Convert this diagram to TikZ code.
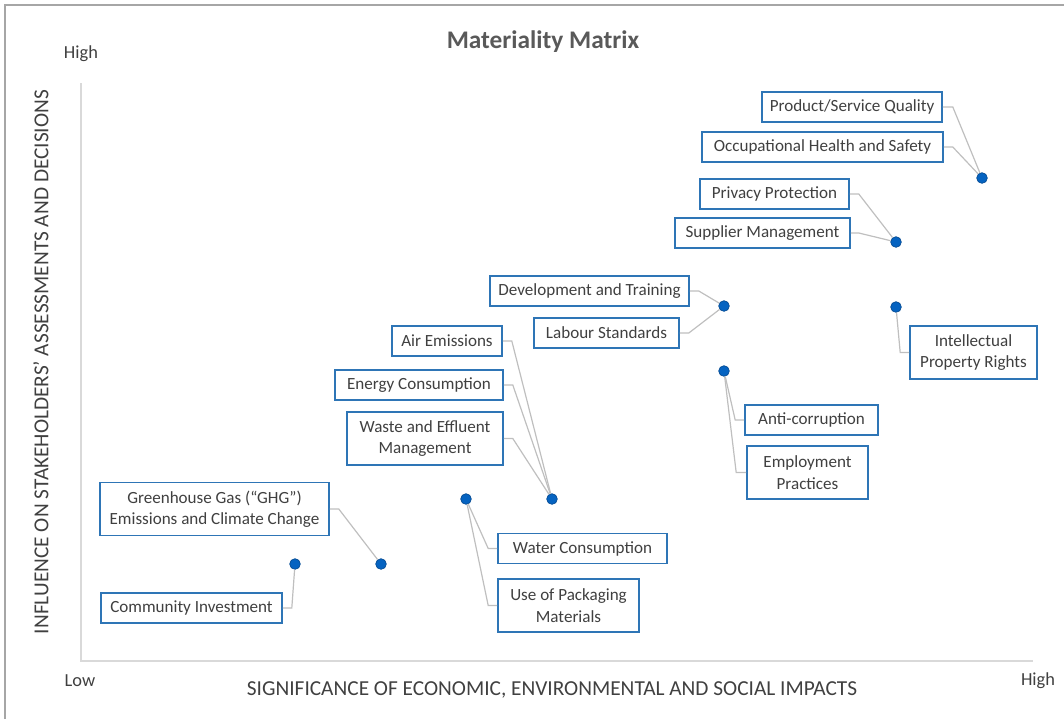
\documentclass[tikz,border=0pt]{standalone}
\usepackage{fontspec}
\setmainfont{Carlito}
\usepackage{xcolor}
\usetikzlibrary{positioning}

\definecolor{boxblue}{RGB}{46,117,182}
\definecolor{dotblue}{RGB}{5,99,193}
\definecolor{leadgray}{RGB}{191,191,191}
\definecolor{axisgray}{RGB}{217,217,217}
\definecolor{framegray}{RGB}{166,166,166}
\definecolor{txtgray}{RGB}{64,64,64}
\definecolor{titlegray}{RGB}{89,89,89}

\tikzset{
  issue/.style={draw=boxblue, line width=1.2pt, fill=white, align=center, text=txtgray,
    font=\fontsize{12.8}{16}\selectfont, inner sep=0pt, minimum height=22.5pt},
  tall/.style={minimum height=40pt},
  matdot/.style={circle, fill=dotblue, draw=dotblue!75!black, line width=0.5pt,
    inner sep=0pt, minimum size=8pt},
  lead/.style={draw=leadgray, line width=0.9pt},
  axisline/.style={draw=axisgray, line width=1.5pt},
  axistext/.style={text=txtgray, font=\fontsize{16}{19}\selectfont},
  endtext/.style={text=txtgray, font=\fontsize{13.8}{16}\selectfont},
}

\begin{document}
\begin{tikzpicture}[x=0.75pt,y=0.75pt,yscale=-1,xscale=1]
\useasboundingbox (0,0) rectangle (1064,719);

%Frame
\draw [framegray, line width=1.8pt] (5,719) -- (5,5) -- (1064,5) ;

%Axes
\coordinate (orig) at (81,661);
\coordinate (ytop) at (81,83);
\coordinate (xend) at (1033,661);
\draw [axisline] (ytop) -- (orig) -- (xend) ;

% Title
\node (title) at (543,42) [text=titlegray, font=\fontsize{19}{23}\selectfont\bfseries] {Materiality Matrix};
% Axis Text
\node (yhigh) at (81,54) [endtext] {High};
\node (xlow) at (80,681) [endtext] {Low};
\node (xhigh) at (1038,681) [endtext] {High};
\node (ytitle) at (41,362) [axistext, rotate=90] {INFLUENCE ON STAKEHOLDERS’ ASSESSMENTS AND DECISIONS};
\node (xtitle) at (552,690) [axistext] {SIGNIFICANCE OF ECONOMIC, ENVIRONMENTAL AND SOCIAL IMPACTS};

%Dots
\node (d1) at (982,178) [matdot] {};
\node (d2) at (896,242) [matdot] {};
\node (d3) at (724,306) [matdot] {};
\node (d4) at (896,307) [matdot] {};
\node (d5) at (724,371) [matdot] {};
\node (d6) at (552,499) [matdot] {};
\node (d7) at (466,499) [matdot] {};
\node (d8) at (381,564) [matdot] {};
\node (d9) at (295,564) [matdot] {};

% Issue boxes
\node (prodq) at (852,107) [issue, minimum width=135pt] {Product/Service Quality};
\node (ohs) at (822.5,147) [issue, minimum width=180.75pt] {Occupational Health and Safety};
\node (privacy) at (774.5,194) [issue, minimum width=111.75pt] {Privacy Protection};
\node (supplier) at (762.5,233) [issue, minimum width=131.25pt] {Supplier Management};
\node (devtrain) at (589.5,291) [issue, minimum width=149.25pt] {Development and Training};
\node (labour) at (606.5,333) [issue, minimum width=108.75pt] {Labour Standards};
\node (ipr) at (973.5,352.5) [issue, tall, minimum width=95.25pt] {Intellectual\\Property Rights};
\node (air) at (447,341) [issue, minimum width=82.5pt] {Air Emissions};
\node (energy) at (419,385) [issue, minimum width=126pt] {Energy Consumption};
\node (waste) at (425,438.5) [issue, tall, minimum width=117pt] {Waste and Effluent\\Management};
\node (anticorr) at (811.5,420) [issue, minimum width=99.75pt] {Anti-corruption};
\node (employ) at (807.5,472.5) [issue, tall, minimum width=90.75pt] {Employment\\Practices};
\node (ghg) at (214.5,509) [issue, tall, minimum width=171.75pt] {Greenhouse Gas (“GHG”)\\Emissions and Climate Change};
\node (water) at (582.5,548.5) [issue, minimum width=126.75pt] {Water Consumption};
\node (pack) at (568.5,605.5) [issue, tall, minimum width=105.75pt] {Use of Packaging\\Materials};
\node (community) at (191.5,608) [issue, minimum width=135.75pt] {Community Investment};

%Leader lines
\draw [lead] (prodq.east) -- ++(10,0) -- (d1) ;
\draw [lead] (ohs.east) -- ++(9,0) -- (d1) ;
\draw [lead] (privacy.east) -- ++(9,0) -- (d2) ;
\draw [lead] (supplier.east) -- ++(8,0) -- (d2) ;
\draw [lead] (devtrain.east) -- ++(9,0) -- (d3) ;
\draw [lead] (labour.east) -- ++(9,0) -- (d3) ;
\draw [lead] (ipr.west) -- ++(-9,0) -- (d4) ;
\draw [lead] (air.east) -- ++(9,0) -- (d6) ;
\draw [lead] (energy.east) -- ++(9,0) -- (d6) ;
\draw [lead] (waste.east) -- ++(9,0) -- (d6) ;
\draw [lead] (anticorr.west) -- ++(-9,0) -- (d5) ;
\draw [lead] (employ.west) -- ++(-10,0) -- (d5) ;
\draw [lead] (ghg.east) -- ++(9,0) -- (d8) ;
\draw [lead] (water.west) -- ++(-9,0) -- (d7) ;
\draw [lead] (pack.west) -- ++(-9,0) -- (d7) ;
\draw [lead] (community.east) -- ++(9,0) -- (d9) ;

\end{tikzpicture}
\end{document}
